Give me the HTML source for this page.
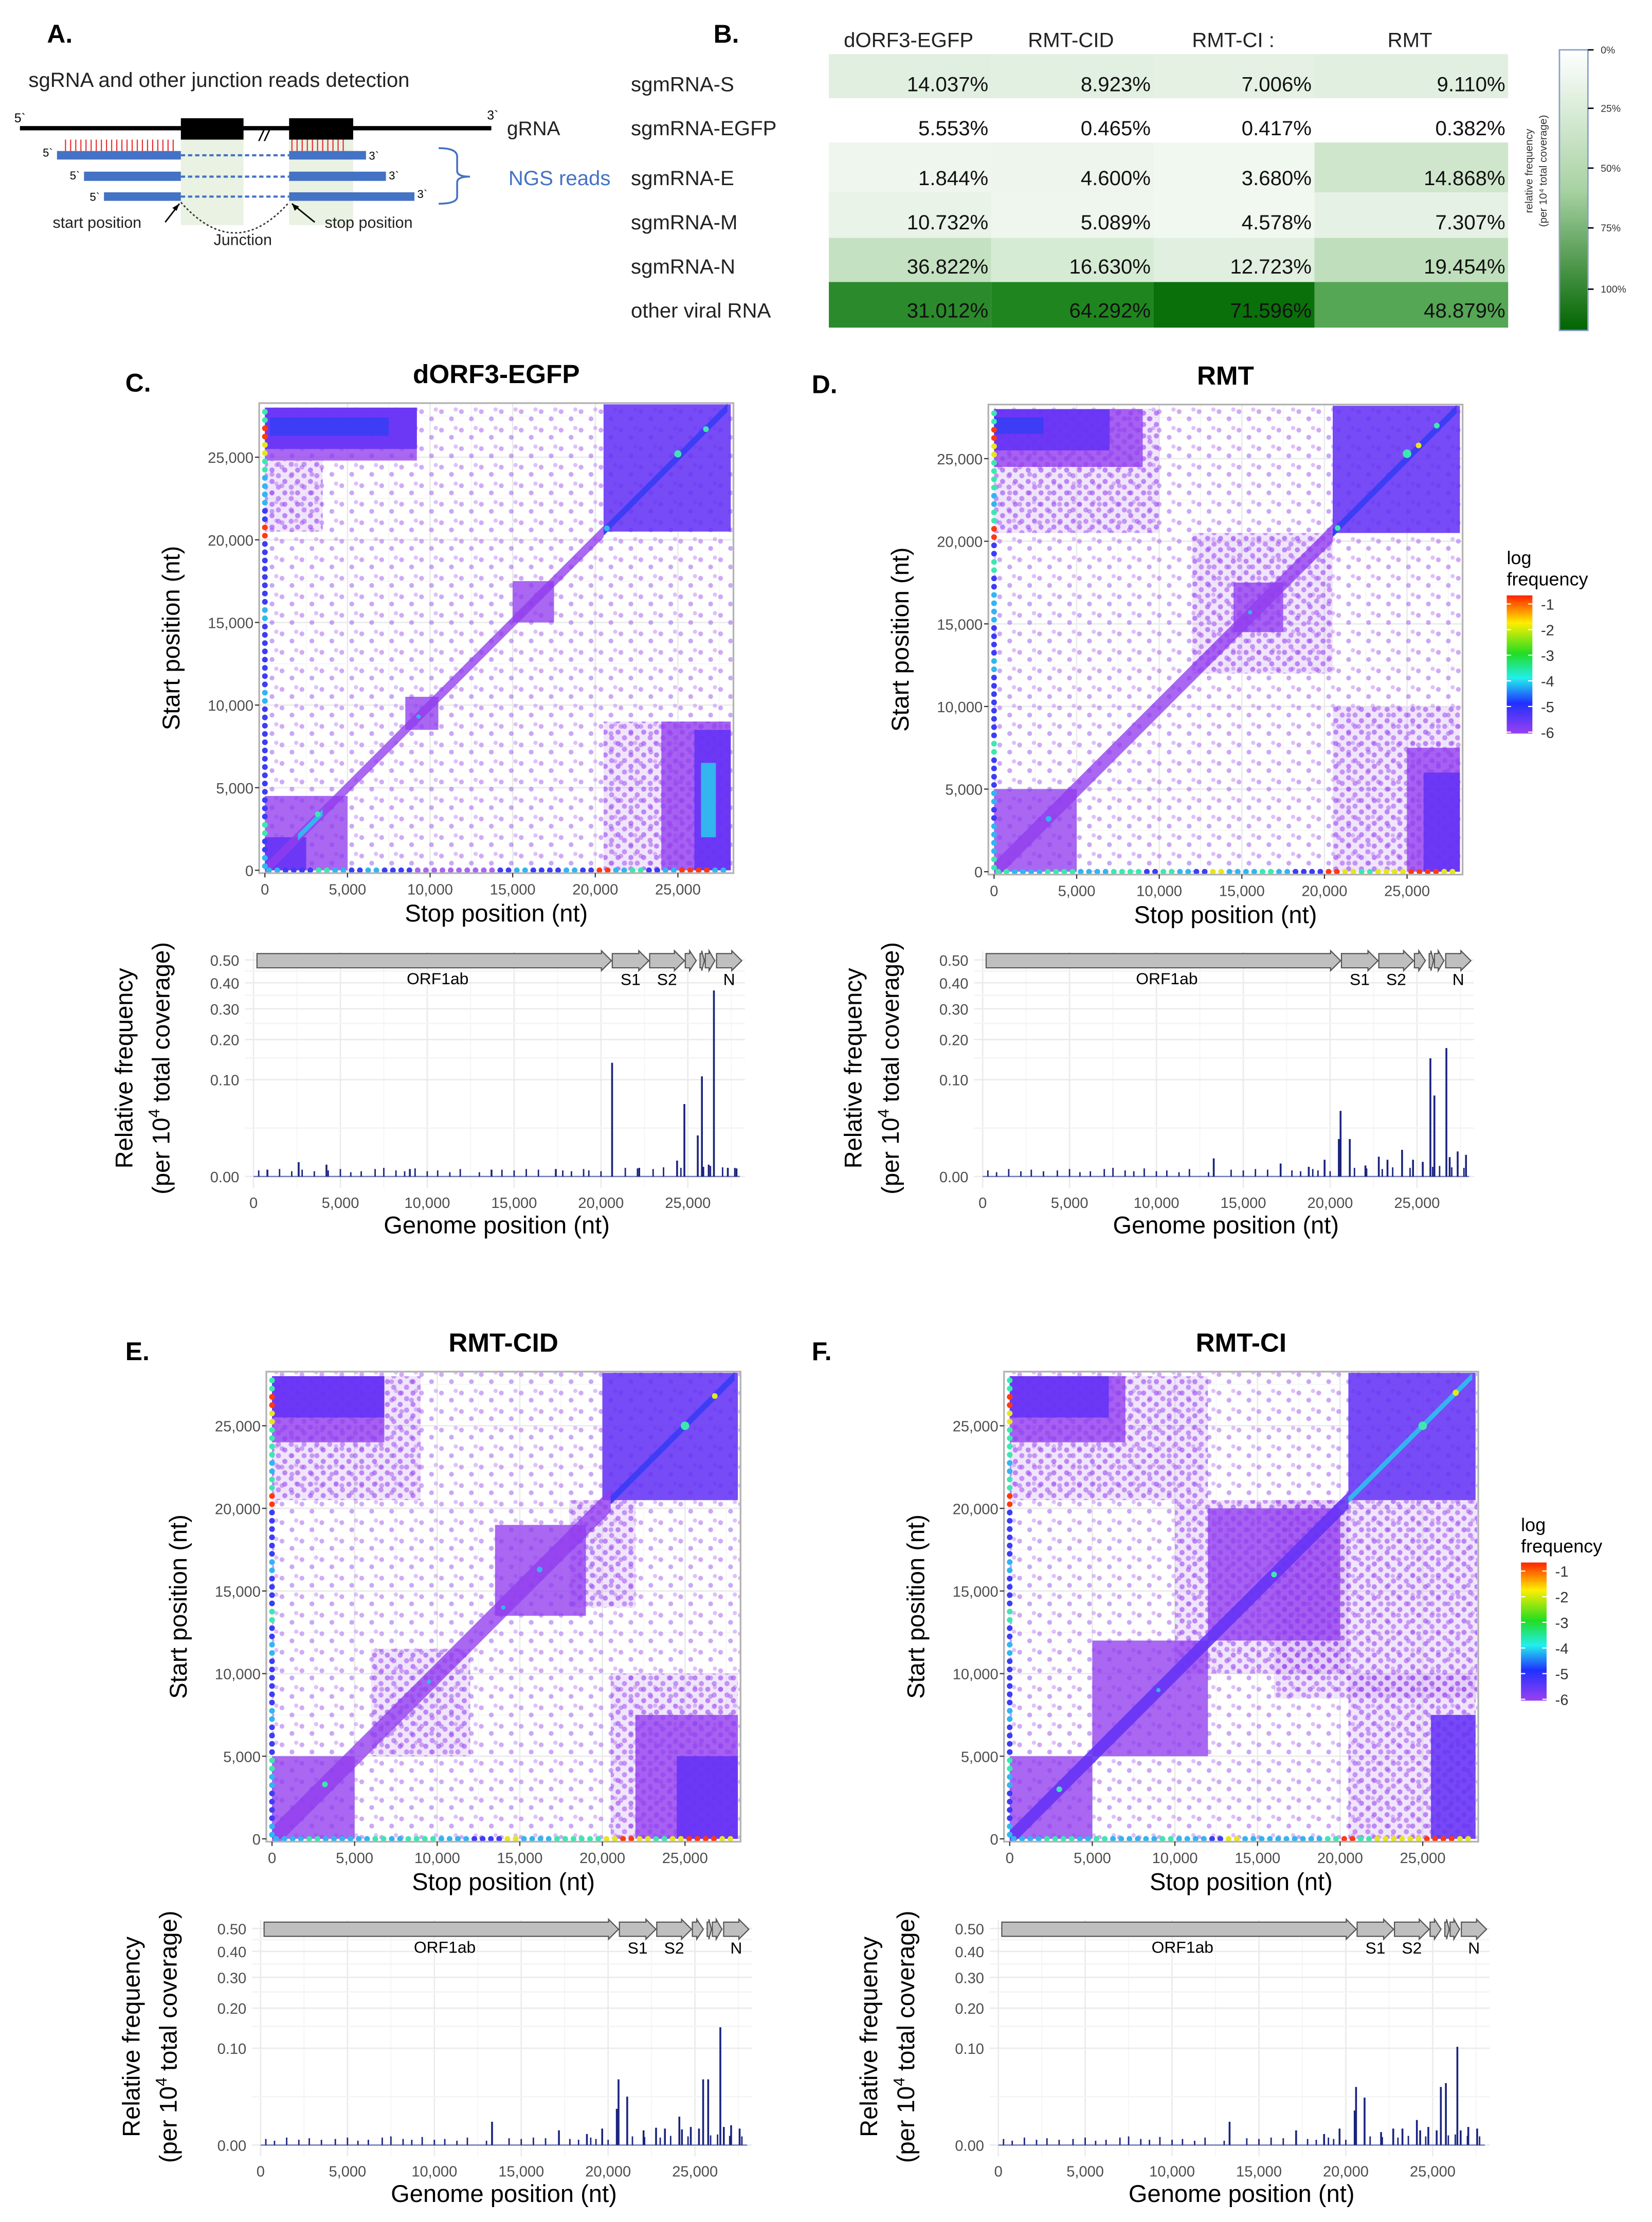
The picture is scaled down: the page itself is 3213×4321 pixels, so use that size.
<!DOCTYPE html>
<html><head><meta charset="utf-8">
<style>
html,body{margin:0;padding:0;background:#fff;}
svg{display:block;}
text{font-family:"Liberation Sans",sans-serif;}
</style></head>
<body>
<svg id="fig" xmlns="http://www.w3.org/2000/svg" width="3213" height="4321" viewBox="0 0 1160 1560">
<defs>
  <linearGradient id="gGreen" x1="0" y1="0" x2="0" y2="1">
    <stop offset="0" stop-color="#ffffff"/><stop offset="0.5" stop-color="#a8d2a3"/><stop offset="1" stop-color="#006400"/>
  </linearGradient>
  <linearGradient id="gRain" x1="0" y1="0" x2="0" y2="1">
    <stop offset="0" stop-color="#ff2200"/><stop offset="0.2" stop-color="#ffee00"/><stop offset="0.42" stop-color="#22dd22"/>
    <stop offset="0.6" stop-color="#22eeee"/><stop offset="0.78" stop-color="#2030ff"/><stop offset="1" stop-color="#9a40f0"/>
  </linearGradient>
  <pattern id="dots0" width="14" height="13" patternUnits="userSpaceOnUse">
    <circle cx="2" cy="3" r="1.7" fill="rgba(170,100,240,0.55)"/>
    <circle cx="9" cy="8" r="1.7" fill="rgba(150,80,240,0.5)"/>
    <circle cx="12" cy="1.5" r="1.5" fill="rgba(190,130,245,0.5)"/>
  </pattern>
  <pattern id="dots1" width="9" height="8" patternUnits="userSpaceOnUse">
    <rect width="9" height="8" fill="rgba(175,110,240,0.18)"/>
    <circle cx="2" cy="2" r="1.8" fill="rgba(150,70,240,0.6)"/>
    <circle cx="6.5" cy="6" r="1.8" fill="rgba(160,80,240,0.55)"/>
  </pattern>
</defs>
<rect x="0" y="0" width="1160" height="1560" fill="#fff"/>
<g>
  <text x="33" y="30" font-size="18" font-weight="bold">A.</text>
  <text x="20" y="61" font-size="14.5" fill="#222">sgRNA and other junction reads detection</text>
  <rect x="127" y="97" width="44" height="61" fill="#e9f2e3"/>
  <rect x="203" y="97" width="45" height="61" fill="#e9f2e3"/>
  <line x1="14" y1="90" x2="345" y2="90" stroke="#000" stroke-width="3"/>
  <rect x="127" y="83" width="44" height="15" fill="#000"/>
  <rect x="203" y="83" width="45" height="15" fill="#000"/>
  <text x="182" y="99" font-size="14" font-style="italic">//</text>
  <text x="10" y="86" font-size="9">5`</text>
  <text x="342" y="84" font-size="9">3`</text>
  <text x="356" y="95" font-size="14" fill="#222">gRNA</text>
  <g id="redlines"></g>
  <rect x="40" y="106" width="87" height="6" fill="#4472c4"/>
  <rect x="203" y="106" width="54" height="6" fill="#4472c4"/>
  <line x1="127" y1="109" x2="203" y2="109" stroke="#4472c4" stroke-width="1.5" stroke-dasharray="3,2"/>
  <rect x="59" y="120.5" width="68" height="6.5" fill="#4472c4"/>
  <rect x="203" y="120.5" width="68" height="6.5" fill="#4472c4"/>
  <line x1="127" y1="124" x2="203" y2="124" stroke="#4472c4" stroke-width="1.5" stroke-dasharray="3,2"/>
  <rect x="73" y="135" width="54" height="6" fill="#4472c4"/>
  <rect x="203" y="135" width="88" height="6" fill="#4472c4"/>
  <line x1="127" y1="138" x2="203" y2="138" stroke="#4472c4" stroke-width="1.5" stroke-dasharray="3,2"/>
  <text x="30" y="110" font-size="8">5`</text>
  <text x="259" y="112" font-size="8">3`</text>
  <text x="49" y="126" font-size="8">5`</text>
  <text x="273" y="126" font-size="8">3`</text>
  <text x="63" y="141" font-size="8">5`</text>
  <text x="293" y="139" font-size="8">3`</text>
  <path d="M127 142 Q165 185 203 142" fill="none" stroke="#333" stroke-width="1" stroke-dasharray="1.5,1.5"/>
  <line x1="116" y1="156" x2="126" y2="143" stroke="#000" stroke-width="1"/>
  <path d="M126 143 L121 146 L124 148 Z" fill="#000"/>
  <line x1="221" y1="156" x2="205" y2="143" stroke="#000" stroke-width="1"/>
  <path d="M205 143 L207 148 L210 145 Z" fill="#000"/>
  <text x="37" y="160" font-size="11" fill="#222">start position</text>
  <text x="228" y="160" font-size="11" fill="#222">stop position</text>
  <text x="150" y="172" font-size="11" fill="#222">Junction</text>
  <path d="M308 104 Q321 104 321 110 L321 120 Q321 124 330 124 Q321 124 321 128 L321 138 Q321 143 308 143" fill="none" stroke="#4472c4" stroke-width="1.3"/>
  <text x="357" y="130" font-size="14.5" fill="#4472c4">NGS reads</text>
</g>
<g id="panelB">
  <text x="501" y="30" font-size="18" font-weight="bold">B.</text>
</g>
<g id="colorbarB"></g>
<g id="plots"></g>
</svg>
<script>
const NS='http://www.w3.org/2000/svg';
function mk(tag,attrs,parent){const e=document.createElementNS(NS,tag);for(const k in attrs)e.setAttribute(k,attrs[k]);parent.appendChild(e);return e;}
function txt(parent,x,y,s,size,opts){const e=mk('text',Object.assign({x:x,y:y,'font-size':size},opts||{}),parent);e.textContent=s;return e;}

const tableCols=['dORF3-EGFP','RMT-CID','RMT-CI :','RMT'];
const tableRows=['sgmRNA-S','sgmRNA-EGFP','sgmRNA-E','sgmRNA-M','sgmRNA-N','other viral RNA'];
const valS=['14.037%','8.923%','7.006%','9.110%'];
const valEGFP=['5.553%','0.465%','0.417%','0.382%'];
const valE=['1.844%','4.600%','3.680%','14.868%'];
const valM=['10.732%','5.089%','4.578%','7.307%'];
const valN=['36.822%','16.630%','12.723%','19.454%'];
const valOther=['31.012%','64.292%','71.596%','48.879%'];
const cellColors=[
 ['#e0efdf','#e2f0e1','#e4f1e3','#e1efe0'],
 ['#ffffff','#ffffff','#ffffff','#ffffff'],
 ['#eef6ed','#edf5ec','#f1f8f0','#cfe6cc'],
 ['#e9f3e8','#eef6ed','#f1f8f0','#e6f1e5'],
 ['#c4e1c1','#d6ebd4','#e0efdf','#bfdfbc'],
 ['#2b8a2b','#1f861f','#0a700a','#55a655']];
(function(){
 const g=document.getElementById('panelB');
 const colX=[582,696,810,923,1059];
 const rowY=[38,69,100,135,167,198,230];
 const headX=[638,752,866,990];
 const vals=[valS,valEGFP,valE,valM,valN,valOther];
 const textY=[64,95,130,161,192,223];
 tableCols.forEach((c,i)=>{const t=txt(g,headX[i],33,c,14.5,{'text-anchor':'middle',fill:'#222'});
  
  });
 tableRows.forEach((r,j)=>{
  for(let i=0;i<4;i++){
   const rc=mk('rect',{x:colX[i],y:rowY[j],width:colX[i+1]-colX[i],height:rowY[j+1]-rowY[j],fill:cellColors[j][i]},g);
   
   
  }
 });
 tableRows.forEach((r,j)=>{
  const t=txt(g,443,textY[j],r,14.5,{fill:'#222'});
  
  
  for(let i=0;i<4;i++){
   const v=txt(g,colX[i+1]-2,textY[j],vals[j][i],14.5,{'text-anchor':'end',fill:'#111'});
   
   
  }
 });
 const cb=document.getElementById('colorbarB');
 const bar=mk('rect',{x:1095,y:35,width:20,height:197,fill:'url(#gGreen)',stroke:'#8aa0c8','stroke-width':1},cb);
 
 
 const pctLabels=['0%','25%','50%','75%','100%'];
 const pctY=[35,76,118,160,203];
 pctLabels.forEach((p,i)=>{mk('line',{x1:1115,y1:pctY[i],x2:1119,y2:pctY[i],stroke:'#000','stroke-width':1},cb);
  const t=txt(cb,1124,pctY[i]+2.5,p,7,{fill:'#333'});
  
  });
 const l1=txt(cb,0,0,'relative frequency',7.5,{transform:'translate(1076,120) rotate(-90)','text-anchor':'middle',fill:'#333'});
 
 
 const l2=txt(cb,0,0,'(per 10\u2074 total coverage)',7.5,{transform:'translate(1086,120) rotate(-90)','text-anchor':'middle',fill:'#333'});
 
 
 const rl=document.getElementById('redlines');
 for(let x=46;x<=125;x+=3.6){mk('line',{x1:x,y1:98,x2:x,y2:106,stroke:'#e83030','stroke-width':0.8},rl);}
 for(let x=205;x<=243;x+=3.6){mk('line',{x1:x,y1:98,x2:x,y2:106,stroke:'#e83030','stroke-width':0.8},rl);}
})();

// regions: [stopFrom, stopTo, startFrom, startTo, level]
const regionsC=[[0,28300,0,28300,0],[0,9200,24800,28000,2],[0,9200,25500,28000,3],[300,7500,26300,27400,4],[0,3500,20500,24800,1],
 [20500,28200,20500,28200,3],[20500,28200,0,9000,1],[24000,28200,0,9000,2],[26000,28200,0,8500,3],[26400,27300,2000,6500,5],
 [0,5000,0,4500,2],[0,2500,0,2000,3],[15000,17500,15000,17500,2],[8500,10500,8500,10500,2]];
const diagC=[[0,20500,2,350],[2000,3500,5,200],[20500,28000,4,250]];
const hotC=[[25000,25200,6,2.5],[26700,26700,6,2],[20700,20700,5,2],[9300,9300,5,1.5],[3200,3400,6,2]];
const leftC=[5,4,6,4,4,4,4,4,4,4,5,4,4,4,4,5,4,4,4,4,8,4,5,5,6,7,8,6];
const bottomC=[5,4,4,6,5,4,5,4,4,2,2,2,2,2,4,5,4,4,5,4,8,5,6,4,5,8,8,5];

const regionsD=[[0,28300,0,28300,0],[0,10000,20500,28000,1],[0,9000,24500,28000,2],[0,7000,25500,28000,3],[0,3000,26500,27500,4],
 [20500,28200,20500,28200,3],[20500,28200,0,10000,1],[25000,28200,0,7500,2],[26000,28200,0,6000,3],[0,5000,0,5000,2],
 [12000,20500,12000,20500,1],[14500,17500,14500,17500,2]];
const diagD=[[0,20500,2,550],[20500,28000,4,250]];
const hotD=[[25000,25300,6,3],[25700,25800,7,2],[26800,27000,6,2],[20800,20800,6,2],[3300,3200,5,2],[15500,15700,5,1.5]];
const leftD=[6,5,5,4,5,4,4,6,4,4,4,4,5,4,4,5,5,4,6,4,8,6,5,6,6,7,8,6];
const bottomD=[6,5,5,6,6,5,5,6,6,4,6,5,4,7,5,5,6,5,4,4,8,7,6,7,7,8,8,7];

const regionsE=[[0,28300,0,28300,0],[0,9000,20500,28000,1],[0,6800,24000,28000,2],[0,6800,25500,28000,3],[20000,28200,20500,28200,3],
 [18000,22000,14000,20500,1],[13500,19000,13500,19000,2],[20500,28200,0,10000,1],[22000,28200,0,7500,2],[24500,28200,0,5000,3],
 [6000,12000,5000,11500,1],[0,5000,0,5000,2]];
const diagE=[[0,20500,2,700],[20500,28000,4,250]];
const hotE=[[25000,25000,6,3],[26800,26800,7,2],[16200,16300,5,2],[14000,14000,5,1.5],[3200,3300,6,2],[9500,9500,5,1.5]];
const leftE=[5,4,4,5,6,4,4,5,4,4,4,5,4,6,4,4,5,4,4,4,8,6,5,6,6,7,8,6];
const bottomE=[5,5,6,5,5,5,6,5,6,6,5,5,4,4,7,5,5,6,6,6,7,8,7,6,7,8,8,7];

const regionsF=[[0,28300,0,28300,0],[0,12000,20500,28000,1],[0,7000,24000,28000,2],[0,6000,25500,28000,3],[16000,28300,8500,20500,1],
 [10000,20500,10000,20500,1],[12000,20000,12000,20000,2],[20500,28200,20500,28200,3],[20500,28200,0,10000,1],[25500,28200,0,7500,3],
 [5000,12000,5000,12000,2],[0,5000,0,5000,2]];
const diagF=[[0,20500,3,500],[20500,28000,5,200]];
const hotF=[[25000,25000,6,3],[27000,27000,7,2.2],[16000,16000,6,2],[3000,3000,6,2],[9000,9000,5,1.5]];
const leftF=[5,4,4,5,6,4,4,5,4,4,4,5,4,6,4,4,5,4,4,4,8,6,5,6,6,7,8,6];
const bottomF=[5,5,6,6,5,6,5,5,5,6,5,5,4,7,5,5,5,5,5,6,8,6,7,7,7,8,8,7];

const scatterTicks=[0,5000,10000,15000,20000,25000];
const scatterTickLabels=['0','5,000','10,000','15,000','20,000','25,000'];

const peakPosC=[20640,24800,25570,25810,26500,24380,2600,4200,9000,17400,22200,26200,27300,800,13700,27800];
const peakValC=[0.138,0.056,0.018,0.107,0.369,0.0027,0.0022,0.0015,0.0006,0.0006,0.0008,0.0015,0.0008,0.0005,0.0005,0.0007];
const peakPosD=[20600,20500,21130,19680,13300,17150,18770,22030,22800,23300,24140,24770,25330,25770,26000,26690,26880,27340,27820];
const peakValD=[0.046,0.015,0.015,0.003,0.0035,0.0018,0.001,0.0013,0.0042,0.003,0.0076,0.003,0.0023,0.149,0.070,0.176,0.004,0.0067,0.005];
const peakPosE=[20600,20500,21100,13320,17170,19660,18780,22040,22760,23270,24100,24250,24760,25230,25470,25760,26460,26660,27080,27570];
const peakValE=[0.046,0.014,0.025,0.0058,0.0023,0.0029,0.0013,0.0023,0.0032,0.0029,0.0086,0.0026,0.0035,0.0029,0.046,0.046,0.148,0.0035,0.0042,0.0029];
const peakPosF=[20590,20510,21080,13310,17140,19640,18750,22030,22730,23260,24090,24280,24750,25230,25470,25760,26420,26610,27050,27560];
const peakValF=[0.036,0.0127,0.024,0.0058,0.0023,0.0029,0.0013,0.0018,0.0029,0.0029,0.0067,0.0023,0.0035,0.0023,0.036,0.041,0.103,0.0023,0.0035,0.0029];
const noisePos=[300,800,1500,2200,2800,3500,4300,5000,5600,6200,7000,7500,8200,8700,9300,10000,10600,11300,11900,13000,14300,15000,15700,16400,17800,18300,19000,19300,20000,21400,22100,23000,23600,24600,25900,26300,27000,27700];
const noiseVal=[0.0004,0.0002,0.0006,0.0003,0.0005,0.0003,0.0004,0.0006,0.0002,0.0003,0.0006,0.0008,0.0004,0.0003,0.0007,0.0003,0.0004,0.0002,0.0006,0.0002,0.0005,0.0004,0.0006,0.0005,0.0004,0.0003,0.0006,0.0004,0.0003,0.0008,0.0007,0.0006,0.0009,0.0008,0.0010,0.0012,0.0009,0.0008];
const barTicks=[0,0.1,0.2,0.3,0.4,0.5];
const barTickLabels=['0.00','0.10','0.20','0.30','0.40','0.50'];
const genes=[[200,20600,''],[20650,22750,'S1'],[22800,24800,'S2'],[24850,25480,''],[25700,25950,''],[26000,26550,''],[26650,28100,'N']];

const LV=['url(#dots0)','url(#dots1)','rgba(145,60,238,0.78)','rgba(100,50,245,0.88)','#3d3df5','#33b5f0','#3de8b0','#e6e620','#ff3a10'];

function scatter(P){
 const root=document.getElementById('plots');
 const g=mk('g',{},root);
 
 
 const L=P.L,T=P.T,R=P.L+333,B=P.T+330;
 const k=290/25000, x0=L+4, y0=B-2;
 const sx=v=>x0+v*k, sy=v=>y0-v*k;
 const clipId='clip'+P.name;
 const cp=mk('clipPath',{id:clipId},g); mk('rect',{x:L,y:T,width:333,height:330},cp);
 mk('rect',{x:L,y:T,width:333,height:330,fill:'#fff'},g);
 const gridG=mk('g',{},g);
 for(let v=2500;v<28500;v+=2500){const major=v%5000==0;
  mk('line',{x1:sx(v),y1:T,x2:sx(v),y2:B,stroke:major?'#ebebeb':'#f5f5f5','stroke-width':major?1:0.6},gridG);
  mk('line',{x1:L,y1:sy(v),x2:R,y2:sy(v),stroke:major?'#ebebeb':'#f5f5f5','stroke-width':major?1:0.6},gridG);}
 const pg=mk('g',{'clip-path':'url(#'+clipId+')'},g);
 P.regions.forEach(r=>{
  const e=mk('rect',{x:sx(r[0]),y:sy(r[3]),width:(r[1]-r[0])*k,height:(r[3]-r[2])*k,fill:LV[r[4]]},pg);
  
  
 });
 P.diag.forEach(d=>{
  const a=d[0],b=d[1],w=d[3];
  const e=mk('polygon',{points:[sx(a)+','+sy(a+w),sx(b)+','+sy(b+w),sx(b)+','+sy(b-w),sx(a)+','+sy(a-w)].join(' '),fill:LV[d[2]]},pg);
  
  
 });
 P.hot.forEach(h=>{
  const e=mk('circle',{cx:sx(h[0]),cy:sy(h[1]),r:h[3],fill:LV[h[2]]},pg);
  
  
 });
 P.left.forEach((lv,i)=>{for(let j=0;j<2;j++){
  const e=mk('circle',{cx:sx(0),cy:sy(i*1000+250+j*500),r:2,fill:LV[lv]},pg);
  
  }});
 P.bottom.forEach((lv,i)=>{for(let j=0;j<2;j++){
  const e=mk('circle',{cx:sx(i*1000+250+j*500),cy:sy(0),r:2,fill:LV[lv]},pg);
  
  }});
 mk('rect',{x:L,y:T,width:333,height:330,fill:'none',stroke:'#b3b3b3','stroke-width':1.2},g);
 scatterTicks.forEach((v,i)=>{
  mk('line',{x1:sx(v),y1:B,x2:sx(v),y2:B+3,stroke:'#333','stroke-width':0.8},g);
  mk('line',{x1:L-3,y1:sy(v),x2:L,y2:sy(v),stroke:'#333','stroke-width':0.8},g);
  const tx=txt(g,sx(v),B+15,scatterTickLabels[i],10.5,{'text-anchor':'middle',fill:'#4d4d4d'});
  
  
  const ty=txt(g,L-4,sy(v)+4,scatterTickLabels[i],10.5,{'text-anchor':'end',fill:'#4d4d4d'});
  
  
 });
 const xt=txt(g,(L+R)/2,B+34,'Stop position (nt)',17,{'text-anchor':'middle'});
 
 
 const yt=txt(g,0,0,'Start position (nt)',17,{'text-anchor':'middle',transform:'translate('+(L-56)+','+((T+B)/2)+') rotate(-90)'});
 
 
 const tt=txt(g,(L+R)/2,T-14,P.title,18.5,{'text-anchor':'middle','font-weight':'bold'});
 
 
 const lt=txt(g,P.letterX,T-8,P.letter,18,{'font-weight':'bold'});
 
 
}

function coverage(P){
 const root=document.getElementById('plots');
 const g=mk('g',{},root);
 
 
 const x0=P.x0, base=P.base, k=305/25000;
 const sx=v=>x0+v*k, sy=v=>base-215*Math.sqrt(v);
 const L=x0-6,R=x0+345;
 const grid=mk('g',{},g);
 for(let v=0;v<=28500;v+=2500){mk('line',{x1:sx(v),y1:sy(0.5)-6,x2:sx(v),y2:base+8,stroke:v%5000==0?'#ebebeb':'#f4f4f4','stroke-width':v%5000==0?1:0.6},grid);}
 [0,0.025,0.1,0.15,0.2,0.25,0.3,0.35,0.4,0.45,0.5].forEach(v=>{mk('line',{x1:L,y1:sy(v),x2:R,y2:sy(v),stroke:[0,0.1,0.2,0.3,0.4,0.5].includes(v)?'#ebebeb':'#f4f4f4','stroke-width':1},grid);});
 barTicks.forEach((v,i)=>{const t=txt(g,x0-10,sy(v)+4,barTickLabels[i],10.5,{'text-anchor':'end',fill:'#4d4d4d'});
  
  });
 scatterTicks.forEach((v,i)=>{const t=txt(g,sx(v),base+22,scatterTickLabels[i],10.5,{'text-anchor':'middle',fill:'#4d4d4d'});
  
  });
 genes.forEach(gn=>{
  const a=sx(gn[0]),b=sx(gn[1]),tip=Math.min(7,(b-a)*0.6),yc=sy(0.5)+0.5,h=5;
  const e=mk('polygon',{points:[a+','+(yc-h),(b-tip)+','+(yc-h),(b-tip)+','+(yc-7),b+','+yc,(b-tip)+','+(yc+7),(b-tip)+','+(yc+h),a+','+(yc+h)].join(' '),fill:'#bfbfbf',stroke:'#555','stroke-width':0.8},g);
  
  
  if(gn[2]){const t=txt(g,(a+b)/2,yc+17,gn[2],11.5,{'text-anchor':'middle'});
   
   }
 });
 const orf=txt(g,sx(10600),sy(0.5)+17,'ORF1ab',11.5,{'text-anchor':'middle'});
 
 
 const bl=mk('line',{x1:sx(0),y1:base,x2:sx(28000),y2:base,stroke:'#3a4aa0','stroke-width':0.9,opacity:0.7},g);
 
 
 noisePos.forEach((p,i)=>{const e=mk('line',{x1:sx(p),y1:base,x2:sx(p),y2:sy(noiseVal[i]),stroke:'#1a237e','stroke-width':1},g);
  
  });
 P.pos.forEach((p,i)=>{const e=mk('line',{x1:sx(p),y1:base,x2:sx(p),y2:sy(P.val[i]),stroke:'#1a237e','stroke-width':1.3},g);
  
  });
 const xt=txt(g,sx(14000),base+40,'Genome position (nt)',17,{'text-anchor':'middle'});
 
 
 const cy=base-76;
 const y1=txt(g,0,0,'Relative frequency',17,{'text-anchor':'middle',transform:'translate('+(x0-85)+','+cy+') rotate(-90)'});
 
 
 const y2=mk('text',{x:0,y:0,'font-size':17,'text-anchor':'middle',transform:'translate('+(x0-59)+','+cy+') rotate(-90)'},g);
 y2.innerHTML='(per 10<tspan font-size="11" dy="-7">4</tspan><tspan dy="7"> total coverage)</tspan>';
 
 
}

function legend(x,y){
 const root=document.getElementById('plots');
 const g=mk('g',{},root);
 
 
 txt(g,x,y,'log',13);
 txt(g,x,y+15,'frequency',13);
 mk('rect',{x:x,y:y+22,width:18,height:97,fill:'url(#gRain)'},g);
 ['-1','-2','-3','-4','-5','-6'].forEach((s,i)=>{const yy=y+28+i*18;
  mk('line',{x1:x,y1:yy,x2:x+3,y2:yy,stroke:'#fff','stroke-width':0.8},g);
  mk('line',{x1:x+15,y1:yy,x2:x+18,y2:yy,stroke:'#fff','stroke-width':0.8},g);
  const t=txt(g,x+24,yy+4,s,10.5,{fill:'#333'});
  
  });
}

scatter({name:'dorf3-egfp',title:'dORF3-EGFP',letter:'C.',letterX:88,L:182,T:283,regions:regionsC,diag:diagC,hot:hotC,left:leftC,bottom:bottomC});
scatter({name:'rmt',title:'RMT',letter:'D.',letterX:570,L:694,T:284,regions:regionsD,diag:diagD,hot:hotD,left:leftD,bottom:bottomD});
scatter({name:'rmt-cid',title:'RMT-CID',letter:'E.',letterX:88,L:187,T:963,regions:regionsE,diag:diagE,hot:hotE,left:leftE,bottom:bottomE});
scatter({name:'rmt-ci',title:'RMT-CI',letter:'F.',letterX:570,L:705,T:963,regions:regionsF,diag:diagF,hot:hotF,left:leftF,bottom:bottomF});
coverage({name:'dorf3-egfp',x0:178,base:826,pos:peakPosC,val:peakValC});
coverage({name:'rmt',x0:690,base:826,pos:peakPosD,val:peakValD});
coverage({name:'rmt-cid',x0:183,base:1506,pos:peakPosE,val:peakValE});
coverage({name:'rmt-ci',x0:701,base:1506,pos:peakPosF,val:peakValF});
legend(1058,396);
legend(1068,1075);
</script>
</body></html>
